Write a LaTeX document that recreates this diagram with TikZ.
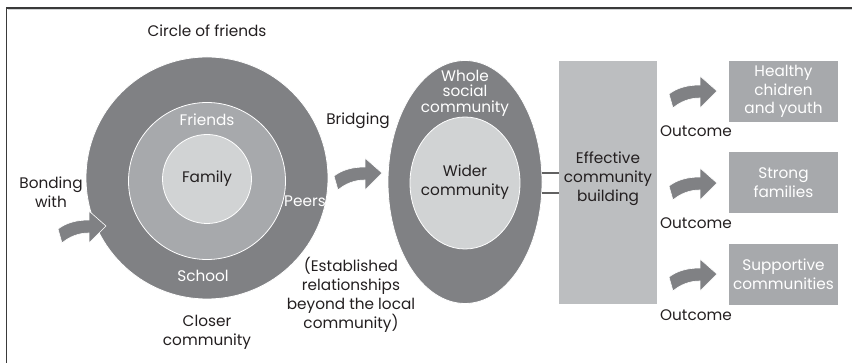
\documentclass[tikz,border=0pt]{standalone}
\usepackage{fontspec}
\setmainfont{Poppins}
\usetikzlibrary{shapes.geometric}
\definecolor{dk}{HTML}{808184}
\definecolor{md}{HTML}{A7A9AC}
\definecolor{lt}{HTML}{D1D3D4}
\definecolor{bx}{HTML}{BCBEC0}
\definecolor{tx}{HTML}{231F20}
\definecolor{fr}{HTML}{3A3A3A}
\tikzset{
  lbl/.style={text=tx, font=\fontsize{15.3}{18.8}\selectfont, align=center, inner sep=0pt},
  wlbl/.style={text=white, font=\fontsize{15.3}{18.8}\selectfont, align=center, inner sep=0pt},
  ring/.style={circle, draw=white, line width=0.8pt, inner sep=0pt},
  curvedarrow/.pic={
    \fill[dk, draw=white, line width=0.6pt] (-48,3) .. controls (-40,-3) and (-30,-6) .. (-17,-6)
      -- (-17,-15) -- (0,0) -- (-17,17) -- (-17,7)
      .. controls (-28,7) and (-37,11) .. (-44,17) -- cycle;
  }
}
\begin{document}
\begin{tikzpicture}[x=1pt,y=-1pt]
\useasboundingbox (0,0) rectangle (852,363);
% frame
\draw[fr, line width=1.4pt] (6.5,370) -- (6.5,8) -- (860,8);
\draw[lt, line width=0.8pt] (7.5,9.6) -- (860,9.6);
% circles
\node[ring, fill=dk, minimum size=242pt] (outer) at (207,178) {};
\node[ring, fill=md, minimum size=157pt] (mid) at (207,181) {};
\node[ring, fill=lt, minimum size=89pt] (inner) at (207,179) {};
\node[lbl] (family) at (207,179) {Family};
\node[wlbl] (friends) at (207,120) {Friends};
\node[wlbl] (peers) at (305,201) {Peers};
\node[wlbl] (school) at (203,276) {School};
\node[lbl] (circlef) at (207,31) {Circle of friends};
\node[lbl] (closer) at (207,332) {Closer\\community};
\node[lbl] (bonding) at (51,192) {Bonding\\with};
\node[lbl] (bridging) at (358,121) {Bridging};
\node[lbl] (estab) at (351,295) {(Established\\relationships\\beyond the local\\community)};
% arrows
\pic at (106,226) {curvedarrow};
\pic at (382,173) {curvedarrow};
% ellipse
\node[ellipse, draw=white, line width=0.8pt, fill=dk, minimum width=154pt, minimum height=243pt, inner sep=0pt] (whole) at (465,182) {};
\node[ellipse, draw=white, line width=0.8pt, fill=lt, minimum width=110pt, minimum height=132pt, inner sep=0pt] (wider) at (465,183) {};
\node[wlbl, font=\fontsize{15.3}{15.6}\selectfont] (wholelbl) at (465,93) {Whole\\social\\community};
\node[lbl] (widerlbl) at (465,182) {Wider\\community};
% effective box
\node[fill=bx, minimum width=98pt, minimum height=243pt, inner sep=0pt] (eff) at (608,182.5) {};
\node[lbl] (efflbl) at (608,178.5) {Effective\\community\\building};
\draw[fr!80, line width=1.2pt] (542,173) -- (eff.west |- 0,173);
\draw[fr!80, line width=1.2pt] (542,193) -- (eff.west |- 0,193);
% outcome boxes
\node[fill=md, minimum width=109pt, minimum height=61pt, inner sep=0pt] (o1) at (783.5,91.5) {};
\node[fill=md, minimum width=109pt, minimum height=61pt, inner sep=0pt] (o2) at (783.5,182.5) {};
\node[fill=md, minimum width=109pt, minimum height=61pt, inner sep=0pt] (o3) at (783.5,274.5) {};
\node[wlbl] at (o1) {Healthy\\chidren\\and youth};
\node[wlbl] at (o2) {Strong\\families};
\node[wlbl] at (o3) {Supportive\\communities};
\pic at (717,91) {curvedarrow};
\pic at (717,183) {curvedarrow};
\pic at (717,274) {curvedarrow};
\node[lbl] (out1) at (696,131) {Outcome};
\node[lbl] (out2) at (696,223) {Outcome};
\node[lbl] (out3) at (696,315) {Outcome};
\end{tikzpicture}
\end{document}
